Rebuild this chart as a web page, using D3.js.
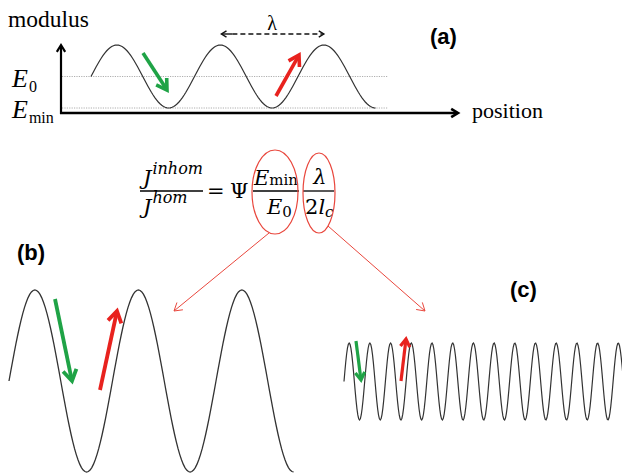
<!DOCTYPE html>
<html>
<head>
<meta charset="utf-8">
<script src="https://cdn.jsdelivr.net/npm/d3@7"></script>
<style>
  body { margin: 0; background: #fff; }
  svg { display: block; }
  .serif { font-family: "Liberation Serif", "Times New Roman", serif; }
  .math { font-family: "DejaVu Serif", serif; }
  .panel { font-family: "Liberation Sans", Arial, sans-serif; font-weight: bold; font-size: 22px; }
</style>
</head>
<body>
<svg id="chart" width="622" height="473"></svg>
<script>
// wave description: phase in wavelengths, value = sin(2*pi*t)
const panels = ['a', 'b', 'c'];
const waveStart = [0, 0, 0];          // phase at first point
const waveEnd = [2.75, 2.75, 13.6];   // phase at last point
const waveLength = [103.5, 103.5, 20.7];
const samplesPerWave = [60, 60, 24];
const levelLabels = ['E', 'E'];
const levelSubs = ['0', 'min'];
const levelValues = [0, -1];          // E0 = mean, Emin = trough

const svg = d3.select('#chart');
const ink = '#333';
const green = '#1fa346';
const red = '#e8221e';
const thin = '#e9473d';

// scales per panel
const xs = [
  d3.scaleLinear().domain([0, 1]).range([91, 91 + waveLength[0]]),
  d3.scaleLinear().domain([0, 1]).range([9, 9 + waveLength[1]]),
  d3.scaleLinear().domain([0, 1]).range([344, 344 + waveLength[2]])
];
const ys = [
  d3.scaleLinear().domain([-1, 1]).range([108, 45]),
  d3.scaleLinear().domain([-1, 1]).range([472, 290]),
  d3.scaleLinear().domain([-1, 1]).range([420, 343])
];

function wavePoints(i) {
  const n = Math.round((waveEnd[i] - waveStart[i]) * samplesPerWave[i]);
  return d3.range(n + 1).map(k => {
    const t = waveStart[i] + (waveEnd[i] - waveStart[i]) * k / n;
    return [t, Math.sin(2 * Math.PI * t)];
  });
}

// arrow with open chevron head
function arrow(g, x1, y1, x2, y2, color, w, head, dash) {
  const a = Math.atan2(y2 - y1, x2 - x1);
  const spread = 0.55;
  g.append('line')
    .attr('x1', x1).attr('y1', y1).attr('x2', x2 - Math.cos(a) * w * 0.4).attr('y2', y2 - Math.sin(a) * w * 0.4)
    .attr('stroke', color).attr('stroke-width', w)
    .attr('stroke-dasharray', dash || null);
  const p = [
    [x2 - head * Math.cos(a - spread), y2 - head * Math.sin(a - spread)],
    [x2, y2],
    [x2 - head * Math.cos(a + spread), y2 - head * Math.sin(a + spread)]
  ];
  g.append('path').attr('d', d3.line()(p))
    .attr('fill', 'none').attr('stroke', color).attr('stroke-width', w)
    .attr('stroke-linejoin', 'miter');
}

// ---------- panel (a) ----------
const ga = svg.append('g');
// reference levels
ga.selectAll('line.level').data(levelValues).enter().append('line')
  .attr('x1', 62).attr('x2', 388)
  .attr('y1', d => ys[0](d)).attr('y2', d => ys[0](d))
  .attr('stroke', '#9a9a9a').attr('stroke-width', 0.8)
  .attr('stroke-dasharray', '1.2,1.2');

// axes
arrow(ga, 61, 114, 61, 45, '#000', 2.2, 8);
arrow(ga, 60, 113, 458, 113, '#000', 2.6, 8);

ga.append('text').attr('class', 'serif').attr('x', 8).attr('y', 27)
  .attr('font-size', 23.5).text('modulus');
ga.append('text').attr('class', 'serif').attr('x', 472).attr('y', 118)
  .attr('font-size', 22).text('position');

// level labels
levelValues.forEach((v, i) => {
  const t = ga.append('text').attr('class', 'serif')
    .attr('x', 12).attr('y', ys[0](v) + 10)
    .attr('font-size', 26);
  t.append('tspan').attr('font-style', 'italic').text(levelLabels[i]);
  t.append('tspan').attr('font-size', 16).attr('dy', 5).attr('dx', 1).text(levelSubs[i]);
});

// wave
ga.append('path').datum(wavePoints(0))
  .attr('d', d3.line().x(d => xs[0](d[0])).y(d => ys[0](d[1])))
  .attr('fill', 'none').attr('stroke', ink).attr('stroke-width', 1.2);

// lambda marker between peaks 2 and 3
arrow(ga, xs[0](1.25) + 12, 34, xs[0](1.25) + 1, 34, '#111', 1.4, 6);
arrow(ga, xs[0](1.25) + 12, 34, xs[0](2.25), 34, '#111', 1.4, 6, '5,3');
ga.append('text').attr('class', 'serif').attr('x', xs[0](1.75)).attr('y', 30)
  .attr('text-anchor', 'middle').attr('font-size', 20).text('λ');

arrow(ga, 143, 53, 167, 90, green, 3.6, 12);
arrow(ga, 276, 96, 299, 55, red, 3.6, 12);

ga.append('text').attr('class', 'panel').attr('x', 430).attr('y', 44).text('(a)');

// ---------- equation ----------
const ge = svg.append('g').attr('class', 'math').attr('font-size', 21);
function jterm(x, y, sup) {
  const t = ge.append('text').attr('x', x).attr('y', y).attr('font-style', 'italic');
  t.append('tspan').text('J');
  t.append('tspan').attr('font-size', 16).attr('dy', -11).attr('dx', 1).text(sup);
}
jterm(143, 185, 'inhom');
jterm(143, 214, 'hom');
ge.append('line').attr('x1', 140).attr('x2', 203).attr('y1', 191).attr('y2', 191)
  .attr('stroke', '#000').attr('stroke-width', 1.3);
ge.append('text').attr('x', 207).attr('y', 198).text('=');
ge.append('text').attr('x', 230).attr('y', 198).text('Ψ');

const emin = ge.append('text').attr('x', 254).attr('y', 185);
emin.append('tspan').attr('font-style', 'italic').text('E');
emin.append('tspan').attr('font-size', 15).text('min');
const e0 = ge.append('text').attr('x', 267).attr('y', 214);
e0.append('tspan').attr('font-style', 'italic').text('E');
e0.append('tspan').attr('font-size', 15).attr('dy', 3).text('0');
ge.append('line').attr('x1', 253).attr('x2', 299).attr('y1', 191).attr('y2', 191)
  .attr('stroke', '#000').attr('stroke-width', 1.3);

ge.append('text').attr('x', 320).attr('y', 184).attr('text-anchor', 'middle')
  .attr('font-style', 'italic').text('λ');
const lc = ge.append('text').attr('x', 305).attr('y', 214);
lc.append('tspan').text('2');
lc.append('tspan').attr('font-style', 'italic').text('l');
lc.append('tspan').attr('font-style', 'italic').attr('font-size', 15).attr('dy', 3).text('c');
ge.append('line').attr('x1', 303).attr('x2', 334).attr('y1', 191).attr('y2', 191)
  .attr('stroke', '#000').attr('stroke-width', 1.3);

// highlight ellipses and pointers
svg.append('ellipse').attr('cx', 275).attr('cy', 192).attr('rx', 23).attr('ry', 42)
  .attr('fill', 'none').attr('stroke', thin).attr('stroke-width', 1.2);
svg.append('ellipse').attr('cx', 319).attr('cy', 193).attr('rx', 16).attr('ry', 40)
  .attr('fill', 'none').attr('stroke', thin).attr('stroke-width', 1.2);
arrow(svg, 269, 233, 174, 311, thin, 1, 9);
arrow(svg, 328, 226, 425, 311, thin, 1, 9);

// ---------- panel (b) ----------
const gb = svg.append('g');
gb.append('text').attr('class', 'panel').attr('x', 17).attr('y', 260).text('(b)');
gb.append('path').datum(wavePoints(1))
  .attr('d', d3.line().x(d => xs[1](d[0])).y(d => ys[1](d[1])))
  .attr('fill', 'none').attr('stroke', ink).attr('stroke-width', 1.3);
arrow(gb, 55, 299, 72, 381, green, 3.8, 13);
arrow(gb, 100, 390, 117, 311, red, 3.8, 13);

// ---------- panel (c) ----------
const gc = svg.append('g');
gc.append('text').attr('class', 'panel').attr('x', 510).attr('y', 297).text('(c)');
gc.append('path').datum(wavePoints(2))
  .attr('d', d3.line().x(d => xs[2](d[0])).y(d => ys[2](d[1])))
  .attr('fill', 'none').attr('stroke', ink).attr('stroke-width', 1.2);
arrow(gc, 356, 341, 361, 380, green, 3.2, 9);
arrow(gc, 401, 381, 406, 339, red, 3.2, 9);
</script>
</body>
</html>
